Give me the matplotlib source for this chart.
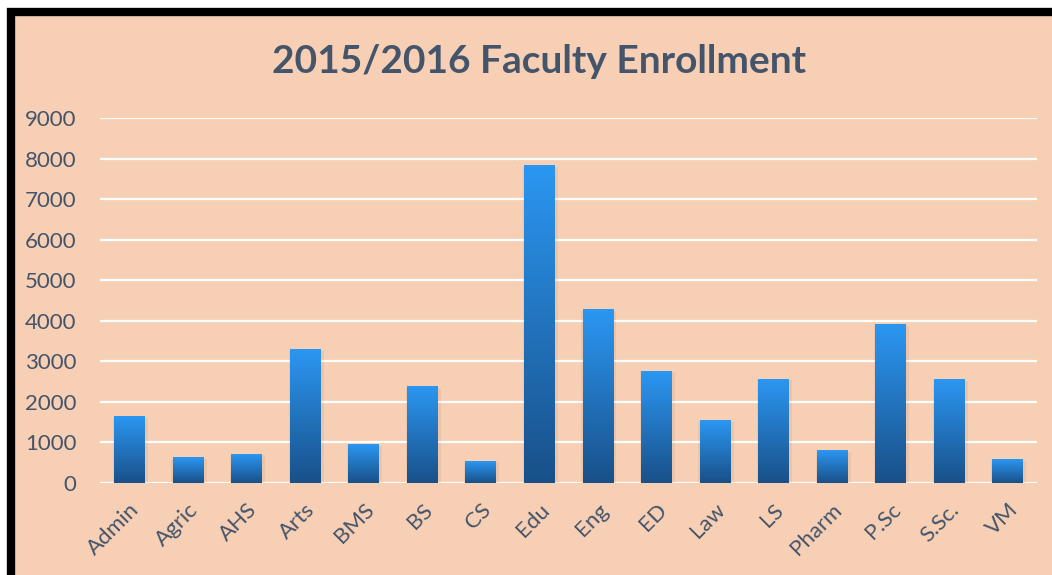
import numpy as np
import matplotlib
matplotlib.use("Agg")
import matplotlib.pyplot as plt
from matplotlib.colors import LinearSegmentedColormap
from matplotlib.patches import Rectangle

faculties = ["Admin", "Agric", "AHS", "Arts", "BMS", "BS", "CS", "Edu", "Eng",
             "ED", "Law", "LS", "Pharm", "P.Sc", "S.Sc.", "VM"]
enrollment = [1630, 620, 715, 3280, 940, 2370, 540, 7820, 4270,
              2760, 1530, 2560, 790, 3900, 2540, 570]
yticks = [0, 1000, 2000, 3000, 4000, 5000, 6000, 7000, 8000, 9000]

bg = "#F7CFB4"
txt = "#44546A"
plt.rcParams['font.family'] = ['Lato', 'DejaVu Sans']

fig = plt.figure(figsize=(10.52, 5.75), dpi=100, facecolor="white")
# black frame around the chart area
fig.patches.append(Rectangle((11 / 1052, -0.1), 1.2, 1 - 12 / 575 + 0.1,
                             transform=fig.transFigure, facecolor=bg,
                             edgecolor="black", linewidth=6, zorder=-1))

ax = fig.add_axes([0.095, 0.16, 0.8907, 0.6348])
ax.set_facecolor("none")
x = np.arange(len(faculties))
w = 0.52
cmap = LinearSegmentedColormap.from_list("bars", ["#195089", "#2B97F2"])
grad = np.linspace(0, 1, 256).reshape(-1, 1)

for xi, v in zip(x, enrollment):
    # soft shadow
    ax.bar(xi + 0.02, v + 40, w + 0.08, bottom=-60, color="#A07860", alpha=0.12, zorder=2, linewidth=0)
    ax.imshow(grad, cmap=cmap, origin="lower", aspect="auto",
              extent=[xi - w / 2, xi + w / 2, 0, v], zorder=3)

ax.set_xlim(-0.5, len(faculties) - 0.5)
ax.set_ylim(0, 9000)
ax.set_yticks(yticks)
ax.set_yticklabels([str(t) for t in yticks])
ax.set_xticks(x)
ax.set_xticklabels(faculties, rotation=45, ha="right", rotation_mode="anchor")
ax.grid(axis="y", color="white", linewidth=1.6, zorder=1)
ax.set_axisbelow(True)
for s in ax.spines.values():
    s.set_visible(False)
ax.tick_params(axis="both", length=0, colors=txt, labelsize=16)
ax.tick_params(axis="y", pad=17)
ax.tick_params(axis="x", pad=12)

fig.text(0.512, 0.893, "2015/2016 Faculty Enrollment", ha="center", va="center",
         fontsize=28, fontweight="bold", color=txt)

fig.savefig("out.png", dpi=100, facecolor="white")
